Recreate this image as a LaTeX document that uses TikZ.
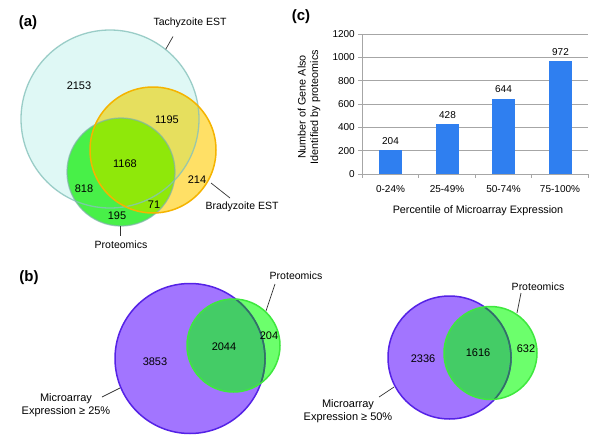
\documentclass[tikz,border=0pt]{standalone}
\usepackage{fontspec}
\setmainfont{Liberation Sans}
\definecolor{tachyfill}{HTML}{DFF8F5}
\definecolor{tachyline}{HTML}{86C2BB}
\definecolor{protfill}{HTML}{48F048}
\definecolor{protline}{HTML}{7FB3AA}
\definecolor{bradyfill}{HTML}{FFE066}
\definecolor{bradyline}{HTML}{F5B400}
\definecolor{tbfill}{HTML}{E6DF5E}
\definecolor{pbfill}{HTML}{8FE80A}
\definecolor{purfill}{HTML}{A275FF}
\definecolor{purline}{HTML}{5522E6}
\definecolor{grnfill}{HTML}{6CFF6C}
\definecolor{grnline}{HTML}{3EE83E}
\definecolor{intfill}{HTML}{44CC66}
\definecolor{intline}{HTML}{2E7A5A}
\definecolor{barblue}{HTML}{2F7FF0}
\begin{document}
\begin{tikzpicture}[x=1pt,y=-1pt,
  num/.style={font=\fontsize{11}{13}\selectfont, inner sep=0pt},
  lbl/.style={font=\fontsize{10.5}{12.5}\selectfont, inner sep=0pt},
  panel/.style={font=\bfseries\fontsize{15}{17}\selectfont, inner sep=0pt},
  ax/.style={font=\fontsize{10}{12}\selectfont, inner sep=0pt},
  axt/.style={font=\fontsize{10.8}{12.5}\selectfont, inner sep=0pt},
  lead/.style={draw=black!80, line width=0.7pt},
  grid line/.style={draw=black!35, line width=0.6pt},
  bar/.style={fill=barblue, draw=none}]
\useasboundingbox (0,0) rectangle (600,442);
\fill[white] (0,0) rectangle (600,442);

% ---------------- panel (a)
\node[panel] (la) at (28,23) {(a)};
\coordinate (T) at (110,119);
\coordinate (B) at (153,150);
\coordinate (P) at (121,172);
\fill[tachyfill] (T) circle[radius=89pt];
\fill[protfill] (P) circle[radius=54pt];
\fill[bradyfill] (B) circle[radius=63pt];
\begin{scope}
  \clip (T) circle[radius=89pt];
  \fill[tbfill] (B) circle[radius=63pt];
\end{scope}
\begin{scope}
  \clip (P) circle[radius=54pt];
  \fill[pbfill] (B) circle[radius=63pt];
\end{scope}
\draw[tachyline, line width=1.3pt, draw opacity=0.8] (T) circle[radius=89pt];
\draw[protline, line width=1.3pt, draw opacity=0.7] (P) circle[radius=54pt];
\draw[bradyline, line width=1.5pt] (B) circle[radius=63pt];

\node[num] (n2153) at (79,86) {2153};
\node[num] (n1195) at (167,120) {1195};
\node[num] (n1168) at (125,164) {1168};
\node[num] (n818) at (84,189) {818};
\node[num] (n214) at (197,180) {214};
\node[num] (n71) at (154,205) {71};
\node[num] (n195) at (117,216) {195};

\node[lbl] (tlab) at (190,23) {Tachyzoite EST};
\coordinate (t1) at (173,36.5);
\coordinate (t2) at (165.7,49.3);
\draw[lead] (t1) -- (t2);
\node[lbl] (blab) at (242,207) {Bradyzoite EST};
\coordinate (b1) at (211,183);
\coordinate (b2) at (230,198);
\draw[lead] (b1) -- (b2);
\node[lbl] (plab) at (121,245) {Proteomics};
\coordinate (p1) at (120,226);
\coordinate (p2) at (120,236);
\draw[lead] (p1) -- (p2);

% ---------------- panel (c)
\node[panel] (lc) at (301,17) {(c)};
\foreach \v/\y in {200/150.67,400/127.33,600/104,800/80.67,1000/57.33,1200/34}{
  \draw[grid line] (362,\y) -- (588,\y);
}
\foreach \v/\y in {0/174,200/150.67,400/127.33,600/104,800/80.67,1000/57.33,1200/34}{
  \node[ax, anchor=east] at (355,\y) {\v};
  \draw[grid line] (358,\y) -- (362,\y);
}
\draw[grid line] (362,34) -- (362,174);
\draw[grid line] (362,174) -- (588,174);
\foreach \x in {362,418.5,475,531.5,588}{
  \draw[grid line] (\x,174) -- (\x,178);
}
\fill[bar] (379,174) rectangle (402,150.2);
\fill[bar] (436,174) rectangle (459,124.1);
\fill[bar] (492,174) rectangle (515,98.9);
\fill[bar] (549,174) rectangle (572,60.6);
\node[ax] (v1) at (390.5,141) {204};
\node[ax] (v2) at (447.5,115) {428};
\node[ax] (v3) at (503.5,89.5) {644};
\node[ax] (v4) at (560.5,51.7) {972};
\node[ax] (c1) at (390.5,189.5) {0-24\%};
\node[ax] (c2) at (447,189.5) {25-49\%};
\node[ax] (c3) at (503.5,189.5) {50-74\%};
\node[ax] (c4) at (560,189.5) {75-100\%};
\node[axt] (xt) at (478,211) {Percentile of Microarray Expression};
\node[axt, rotate=90, align=center] (yt) at (309,107) {Number of Gene Also\\Identified by proteomics};

% ---------------- panel (b)
\node[panel] (lb) at (29,278) {(b)};
% left
\coordinate (M1) at (190,358.5);
\coordinate (G1) at (233.5,345.5);
\fill[purfill] (M1) circle[radius=75pt];
\fill[grnfill] (G1) circle[radius=46.5pt];
\begin{scope}
  \clip (M1) circle[radius=75pt];
  \fill[intfill] (G1) circle[radius=46.5pt];
\end{scope}
\draw[purline, line width=1.5pt] (M1) circle[radius=75pt];
\begin{scope}
  \clip (G1) circle[radius=46.5pt];
  \draw[intline, line width=1.5pt] (M1) circle[radius=75pt];
\end{scope}
\draw[grnline, line width=1.5pt] (G1) circle[radius=46.5pt];
\node[num] (n3853) at (155,362) {3853};
\node[num] (n2044) at (224,347) {2044};
\node[num] (n204) at (269,336) {204};
\node[lbl, align=center, font=\fontsize{11}{13}\selectfont] (ml1) at (66,405.5) {Microarray\\Expression ≥ 25\%};
\coordinate (m1a) at (102,397);
\coordinate (m1b) at (120,388);
\draw[lead] (m1a) -- (m1b);
\node[lbl] (pl1) at (296,276) {Proteomics};
\coordinate (g1a) at (275,284);
\coordinate (g1b) at (266,311);
\draw[lead] (g1a) -- (g1b);
% right
\coordinate (M2) at (449.5,357.5);
\coordinate (G2) at (490.5,353);
\fill[purfill] (M2) circle[radius=61.5pt];
\fill[grnfill] (G2) circle[radius=46.5pt];
\begin{scope}
  \clip (M2) circle[radius=61.5pt];
  \fill[intfill] (G2) circle[radius=46.5pt];
\end{scope}
\draw[purline, line width=1.5pt] (M2) circle[radius=61.5pt];
\begin{scope}
  \clip (G2) circle[radius=46.5pt];
  \draw[intline, line width=1.5pt] (M2) circle[radius=61.5pt];
\end{scope}
\draw[grnline, line width=1.5pt] (G2) circle[radius=46.5pt];
\node[num] (n2336) at (423,359) {2336};
\node[num] (n1616) at (478,353) {1616};
\node[num] (n632) at (526,349) {632};
\node[lbl, align=center, font=\fontsize{11}{13}\selectfont] (ml2) at (348,411.5) {Microarray\\Expression ≥ 50\%};
\coordinate (m2a) at (379,397);
\coordinate (m2b) at (394,387);
\draw[lead] (m2a) -- (m2b);
\node[lbl] (pl2) at (538,287) {Proteomics};
\coordinate (g2a) at (521,293);
\coordinate (g2b) at (517,313);
\draw[lead] (g2a) -- (g2b);
\end{tikzpicture}
\end{document}
